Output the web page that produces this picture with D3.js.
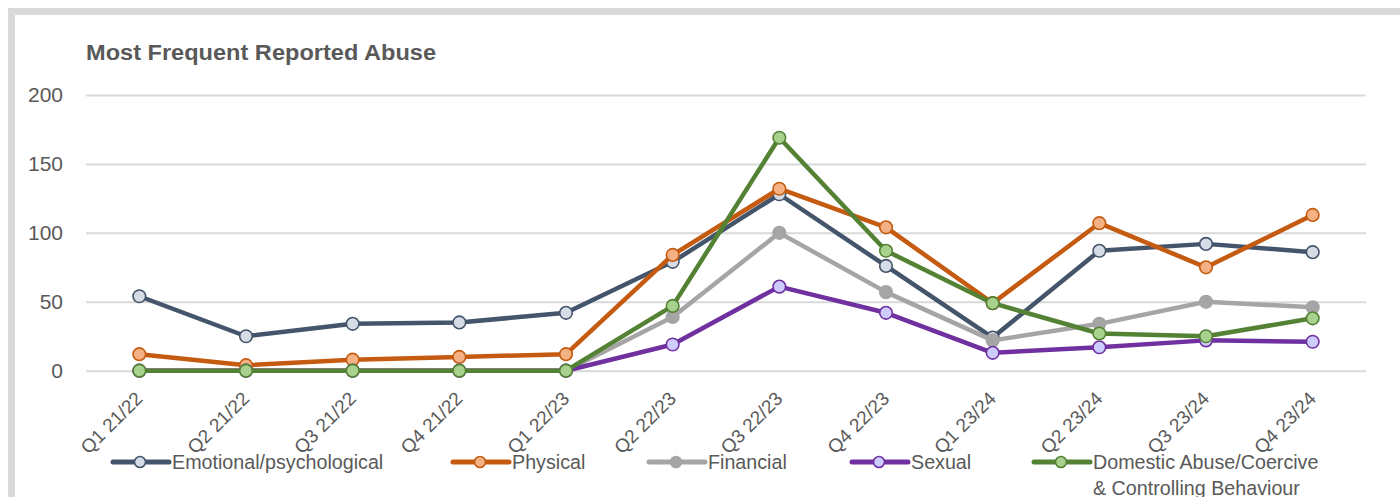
<!DOCTYPE html>
<html>
<head>
<meta charset="utf-8">
<script src="https://cdn.jsdelivr.net/npm/d3@7"></script>
<style>
  html, body { margin: 0; padding: 0; background: #ffffff; }
  svg { display: block; }
  text { font-family: "Liberation Sans", Arial, sans-serif; fill: #595959; }
</style>
</head>
<body>
<script>
// Quarterly counts of the most frequently reported abuse types
const categories = ["Q1 21/22", "Q2 21/22", "Q3 21/22", "Q4 21/22", "Q1 22/23", "Q2 22/23",
                    "Q3 22/23", "Q4 22/23", "Q1 23/24", "Q2 23/24", "Q3 23/24", "Q4 23/24"];
const emotional = [54, 25, 34, 35, 42, 79, 128, 76, 24, 87, 92, 86];
const physical  = [12, 4, 8, 10, 12, 84, 132, 104, 49, 107, 75, 113];
const financial = [0, 0, 0, 0, 0, 39, 100, 57, 22, 34, 50, 46];
const sexual    = [0, 0, 0, 0, 0, 19, 61, 42, 13, 17, 22, 21];
const domestic  = [0, 0, 0, 0, 0, 47, 169, 87, 49, 27, 25, 38];
const yTicks = [0, 50, 100, 150, 200];
const seriesNames = ["Emotional/psychological", "Physical", "Financial", "Sexual",
                     "Domestic Abuse/Coercive\n& Controlling Behaviour"];

const series = [
  { name: seriesNames[0], values: emotional, line: "#44546a", fill: "#d6dce5", stroke: "#44546a" },
  { name: seriesNames[1], values: physical,  line: "#c55a11", fill: "#f4b183", stroke: "#c55a11" },
  { name: seriesNames[2], values: financial, line: "#a5a5a5", fill: "#a5a5a5", stroke: "#a5a5a5" },
  { name: seriesNames[3], values: sexual,    line: "#7030a0", fill: "#ccccff", stroke: "#7030a0" },
  { name: seriesNames[4], values: domestic,  line: "#548235", fill: "#a9d18e", stroke: "#548235" }
];

const W = 1400, H = 497;
const svg = d3.select("body").append("svg").attr("width", W).attr("height", H);

// chart frame
svg.append("rect")
  .attr("x", 11.5).attr("y", 11.5)
  .attr("width", W + 20).attr("height", H + 20)
  .attr("fill", "#ffffff")
  .attr("stroke", "#d9d9d9").attr("stroke-width", 7);

// title
svg.append("text")
  .attr("x", 86).attr("y", 60)
  .attr("font-size", 21.5).attr("font-weight", "bold")
  .attr("textLength", 350).attr("lengthAdjust", "spacingAndGlyphs")
  .text("Most Frequent Reported Abuse");

const x = d3.scalePoint().domain(categories).range([86, 1366]).padding(0.5);
const y = d3.scaleLinear().domain([0, 200]).range([370.7, 95]);

// gridlines + y labels
const yAxis = d3.axisLeft(y).tickValues(yTicks).tickSize(-(1366 - 86)).tickPadding(23);
const gy = svg.append("g").attr("transform", "translate(86,0)").call(yAxis);
gy.select(".domain").remove();
gy.selectAll(".tick line").attr("stroke", "#d9d9d9").attr("stroke-width", 2);
gy.selectAll(".tick text")
  .attr("font-size", 21)
  .attr("font-family", "'Liberation Sans', Arial, sans-serif")
  .attr("fill", "#595959");

// x labels, rotated
const xAxis = d3.axisBottom(x).tickSize(0).tickPadding(0);
const gx = svg.append("g").attr("transform", "translate(0,370.7)").call(xAxis);
gx.select(".domain").remove();
gx.selectAll(".tick text")
  .attr("font-size", 19)
  .attr("font-family", "'Liberation Sans', Arial, sans-serif")
  .attr("fill", "#595959")
  .attr("text-anchor", "end")
  .attr("dy", null)
  .attr("y", 0)
  .attr("transform", "translate(4,29) rotate(-45)");

// lines and markers
const lineGen = d3.line().x((d, i) => x(categories[i])).y(d => y(d));
const plot = svg.append("g");
series.forEach(s => {
  const g = plot.append("g");
  g.append("path")
    .datum(s.values)
    .attr("d", lineGen)
    .attr("fill", "none")
    .attr("stroke", s.line)
    .attr("stroke-width", 4.5)
    .attr("stroke-linejoin", "round")
    .attr("stroke-linecap", "round");
  g.selectAll("circle")
    .data(s.values)
    .join("circle")
    .attr("cx", (d, i) => x(categories[i]))
    .attr("cy", d => y(d))
    .attr("r", 6.3)
    .attr("fill", s.fill)
    .attr("stroke", s.stroke)
    .attr("stroke-width", 1.6);
});

// legend
const legendX = [112, 452, 648, 851, 1033];
const legendY = 462;
series.forEach((s, i) => {
  const g = svg.append("g").attr("transform", `translate(${legendX[i]},${legendY})`);
  g.append("line")
    .attr("x1", 1).attr("x2", 57).attr("y1", 0).attr("y2", 0)
    .attr("stroke", s.line).attr("stroke-width", 5).attr("stroke-linecap", "round");
  g.append("circle")
    .attr("cx", 28).attr("cy", 0).attr("r", 5.5)
    .attr("fill", s.fill).attr("stroke", s.stroke).attr("stroke-width", 1.6);
  const lines = s.name.split("\n");
  lines.forEach((t, k) => {
    g.append("text")
      .attr("x", 60).attr("y", 6.5 + k * 26)
      .attr("font-size", 19.7)
      .text(t);
  });
});
</script>
</body>
</html>
